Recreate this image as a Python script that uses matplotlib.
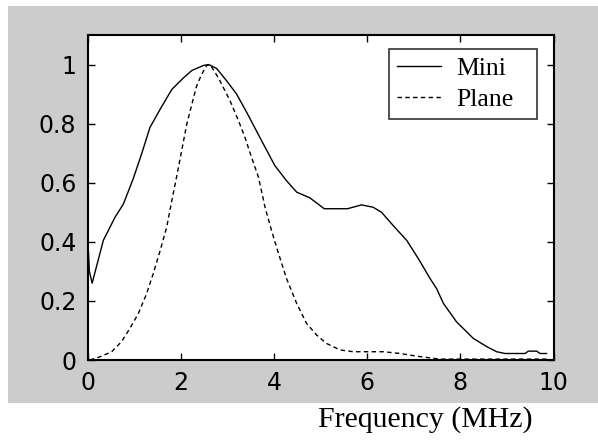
"""Normalised spectra of the mini and plane transducers."""

import matplotlib

matplotlib.use("Agg")

import matplotlib.pyplot as plt
from matplotlib.patches import Rectangle

# values (frequency in MHz, normalised amplitude)
mini_freq = [0.02, 0.04, 0.1, 0.34, 0.59, 0.77, 0.98, 1.16, 1.34, 1.56, 1.81,
             2.06, 2.24, 2.49, 2.6, 2.77, 2.99, 3.2, 3.42, 3.7, 4.02, 4.27,
             4.49, 4.77, 5.08, 5.58, 5.88, 6.13, 6.31, 6.56, 6.85, 7.1, 7.35,
             7.49, 7.64, 7.92, 8.28, 8.57, 8.78, 8.96, 9.39, 9.46, 9.64, 9.71,
             9.85]
mini_amp = [0.37, 0.30, 0.26, 0.405, 0.483, 0.528, 0.613, 0.697, 0.787, 0.849,
            0.916, 0.955, 0.98, 0.997, 1.0, 0.987, 0.944, 0.9, 0.837, 0.753,
            0.658, 0.607, 0.568, 0.549, 0.512, 0.512, 0.525, 0.517, 0.50,
            0.455, 0.405, 0.343, 0.276, 0.242, 0.191, 0.129, 0.073, 0.045,
            0.028, 0.022, 0.022, 0.030, 0.030, 0.022, 0.022]

plane_freq = [0.05, 0.27, 0.52, 0.73, 0.91, 1.09, 1.27, 1.41, 1.56, 1.70,
              1.81, 1.91, 2.02, 2.13, 2.24, 2.34, 2.45, 2.56, 2.63, 2.81,
              3.06, 3.24, 3.38, 3.52, 3.67, 3.81, 3.95, 4.09, 4.27, 4.49,
              4.70, 4.92, 5.13, 5.42, 5.70, 6.35, 6.71, 7.06, 7.56, 9.85]
plane_amp = [0.0, 0.011, 0.028, 0.062, 0.107, 0.157, 0.225, 0.292, 0.371, 0.45,
             0.54, 0.618, 0.708, 0.798, 0.866, 0.927, 0.967, 0.997, 1.0, 0.955,
             0.877, 0.81, 0.753, 0.686, 0.618, 0.517, 0.438, 0.365, 0.276,
             0.191, 0.124, 0.084, 0.056, 0.034, 0.028, 0.028, 0.022, 0.013,
             0.003, 0.003]

x_ticks = [0, 2, 4, 6, 8, 10]
y_ticks = [0, 0.2, 0.4, 0.6, 0.8, 1]
y_tick_labels = ["0", "0.2", "0.4", "0.6", "0.8", "1"]
series_labels = ["Mini", "Plane"]
x_label = "Frequency (MHz)"

SERIF = ["Liberation Serif", "DejaVu Serif"]
SANS = ["DejaVu Sans"]

fig = plt.figure(figsize=(5.98, 4.44), dpi=100, facecolor="white")
# grey matlab-style figure background behind the axes
fig.patches.append(Rectangle((8 / 598, 1 - 403 / 444), 590 / 598, 397 / 444,
                             transform=fig.transFigure, facecolor="#cccccc",
                             edgecolor="none", zorder=-10))

ax = fig.add_axes([87.5 / 598, 1 - 360 / 444, 466 / 598, 325 / 444])
ax.set_facecolor("white")
ax.plot(mini_freq, mini_amp, color="black", linewidth=1.0, label=series_labels[0])
ax.plot(plane_freq, plane_amp, color="black", linewidth=1.0,
        linestyle=(0, (3.2, 2.4)), label=series_labels[1])

ax.set_xlim(0, 10)
ax.set_ylim(0, 1.1)
ax.set_xticks(x_ticks)
ax.set_xticklabels([str(t) for t in x_ticks])
ax.set_yticks(y_ticks)
ax.set_yticklabels(y_tick_labels)
ax.tick_params(direction="in", top=True, right=True, length=5, width=1.0,
               pad=8, labelsize=17, colors="black")
for lbl in ax.get_xticklabels() + ax.get_yticklabels():
    lbl.set_family(SANS)
for sp in ax.spines.values():
    sp.set_linewidth(1.5)

# expand mode keeps the frame as wide as the original one
leg = ax.legend(loc="upper right", bbox_to_anchor=(0.647, 0.5, 0.3176, 0.457),
                mode="expand", prop={"family": SERIF, "size": 18.5},
                frameon=True, fancybox=False, handlelength=1.7,
                handletextpad=0.6, labelspacing=0.29, borderpad=0.32,
                borderaxespad=0)
leg.get_frame().set_edgecolor("black")
leg.get_frame().set_linewidth(1.2)

fig.text(425 / 598, 1 - 427 / 444, x_label, ha="center", va="baseline",
         family=SERIF, fontsize=21.5)

fig.savefig("out.png", dpi=100)
